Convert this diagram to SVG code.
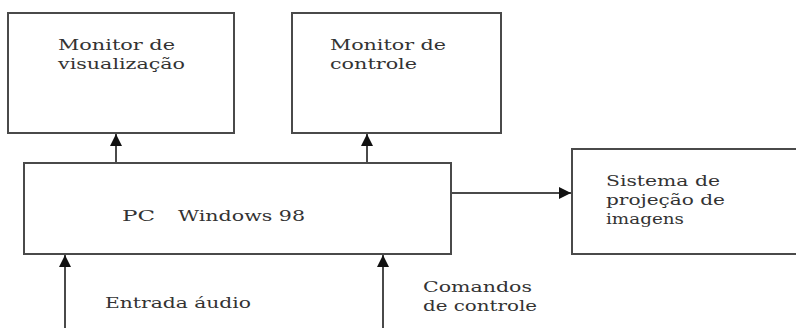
<svg xmlns="http://www.w3.org/2000/svg" width="796" height="328" viewBox="0 0 796 328">
<style>
.box{fill:#fff;stroke:#4a4a4a;stroke-width:2}
.ln{stroke:#4a4a4a;stroke-width:2;fill:none}
text{font-family:"DejaVu Serif","Liberation Serif",serif;font-size:15px;fill:#333}
</style>
<defs>
<marker id="ah" viewBox="0 0 12 12" refX="12" refY="6" markerWidth="12" markerHeight="12" markerUnits="userSpaceOnUse" orient="auto">
<path d="M0,0 L12,6 L0,12 Z" fill="#111"/>
</marker>
</defs>
<rect width="796" height="328" fill="#fff"/>
<g id="monitor-visualizacao">
<rect class="box" x="8" y="13" width="226" height="120"/>
<text x="58" y="50" textLength="117" lengthAdjust="spacingAndGlyphs">Monitor de</text>
<text x="58" y="69" textLength="127" lengthAdjust="spacingAndGlyphs">visualização</text>
</g>
<g id="monitor-controle">
<rect class="box" x="292" y="13" width="209" height="120"/>
<text x="330" y="50" textLength="116" lengthAdjust="spacingAndGlyphs">Monitor de</text>
<text x="330" y="69" textLength="87" lengthAdjust="spacingAndGlyphs">controle</text>
</g>
<g id="pc">
<rect class="box" x="24" y="163" width="427" height="91"/>
<text x="122" y="221" textLength="33" lengthAdjust="spacingAndGlyphs">PC</text>
<text x="178" y="221" textLength="127" lengthAdjust="spacingAndGlyphs">Windows 98</text>
</g>
<g id="sistema-projecao">
<rect class="box" x="572" y="149" width="240" height="105"/>
<text x="606" y="186" textLength="114" lengthAdjust="spacingAndGlyphs">Sistema de</text>
<text x="606" y="205" textLength="119" lengthAdjust="spacingAndGlyphs">projeção de</text>
<text x="606" y="224" textLength="78" lengthAdjust="spacingAndGlyphs">imagens</text>
</g>
<g id="labels">
<text x="105" y="308" textLength="146" lengthAdjust="spacingAndGlyphs">Entrada áudio</text>
<text x="423" y="292" textLength="109" lengthAdjust="spacingAndGlyphs">Comandos</text>
<text x="423" y="311" textLength="114" lengthAdjust="spacingAndGlyphs">de controle</text>
</g>
<g id="connectors">
<line class="ln" x1="116" y1="163" x2="116" y2="134" marker-end="url(#ah)"/>
<line class="ln" x1="367" y1="163" x2="367" y2="134" marker-end="url(#ah)"/>
<line class="ln" x1="451" y1="193" x2="571" y2="193" marker-end="url(#ah)"/>
<line class="ln" x1="65" y1="330" x2="65" y2="255" marker-end="url(#ah)"/>
<line class="ln" x1="383" y1="330" x2="383" y2="255" marker-end="url(#ah)"/>
</g>
</svg>
